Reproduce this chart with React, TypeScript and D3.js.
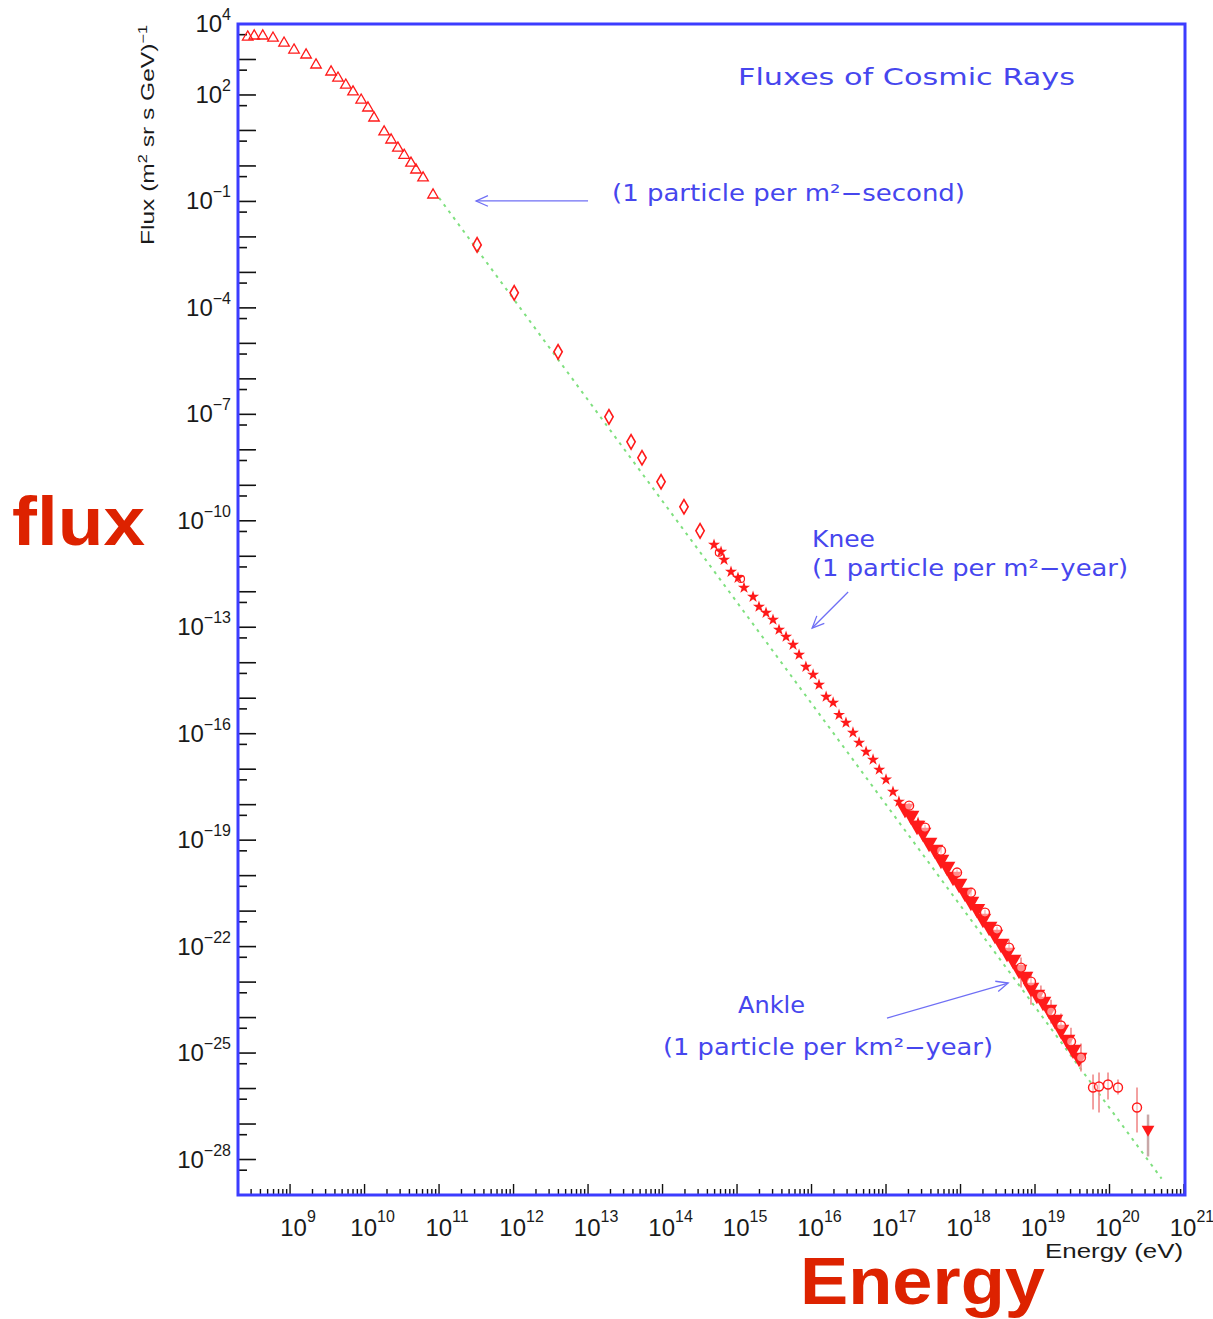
import { useEffect, useRef } from "react";
import * as d3 from "d3";

const W = 1213;
const H = 1319;

// low energy direct measurements (open triangles)
const triEnergy = [2.7e8, 3.3e8, 4.3e8, 5.9e8, 8.3e8, 1.13e9, 1.64e9, 2.23e9, 3.55e9, 4.4e9, 5.6e9, 7.0e9, 9.0e9, 1.11e10, 1.34e10, 1.83e10, 2.27e10, 2.8e10, 3.4e10, 4.2e10, 4.9e10, 6.1e10, 8.3e10];
const triFlux = [4300, 4600, 4600, 4000, 2900, 1850, 1340, 700, 445, 300, 190, 122, 72, 43, 22.5, 9.1, 5.4, 3.2, 2.0, 1.2, 0.77, 0.46, 0.152];

// balloon / satellite data (open diamonds)
const diaEnergy = [3.24e11, 1.02e12, 3.96e12, 1.91e13, 3.78e13, 5.3e13, 9.55e13, 1.94e14, 3.19e14];
const diaFlux = [5.96e-3, 2.65e-4, 5.77e-6, 8.5e-8, 1.68e-8, 5.96e-9, 1.26e-9, 2.48e-10, 5.2e-11];

// air shower data around the knee (small filled markers)
const kneeEnergy = [4.91e14, 6.1e14, 6.7e14, 8.3e14, 1.03e15, 1.24e15, 1.64e15, 1.97e15, 2.45e15, 3.04e15, 3.66e15, 4.55e15, 5.65e15, 6.8e15, 8.4e15, 1.05e16, 1.26e16, 1.57e16, 1.95e16, 2.34e16, 2.9e16, 3.6e16, 4.35e16, 5.4e16, 6.7e16, 8.1e16, 1.0e17, 1.24e17, 1.49e17, 1.97e17, 2.69e17];
const kneeFlux = [2.11e-11, 1.34e-11, 7.96e-12, 3.66e-12, 2.48e-12, 1.3e-12, 7.2e-13, 3.78e-13, 2.56e-13, 1.63e-13, 8.5e-14, 5.4e-14, 3.2e-14, 1.68e-14, 7.7e-15, 4.6e-15, 2.4e-15, 1.1e-15, 7.5e-16, 3.4e-16, 2.04e-16, 1.07e-16, 5.6e-17, 3.1e-17, 1.85e-17, 9.7e-18, 5.1e-18, 2.3e-18, 1.22e-18, 5.96e-19, 3.1e-19];
const kneeOpenEnergy = [5.7e14, 1.13e15];
const kneeOpenFlux = [1.26e-11, 2.3e-12];

// dense band above 1e17 eV (filled down triangles)
const bandEnergy = [1.8e17, 2.17e17, 2.61e17, 3.14e17, 3.78e17, 4.55e17, 5.47e17, 6.59e17, 7.93e17, 9.55e17, 1.15e18, 1.38e18, 1.66e18, 2.0e18, 2.42e18, 2.9e18, 3.5e18, 4.21e18, 5.07e18, 6.1e18, 7.35e18, 8.83e18, 1.06e19, 1.28e19, 1.54e19, 1.85e19, 2.23e19, 2.69e19, 3.24e19, 3.9e19];
const bandFlux = [7.71e-19, 4.9e-19, 2.56e-19, 1.63e-19, 8.51e-20, 5.4e-20, 2.82e-20, 1.79e-20, 9.37e-21, 5.96e-21, 3.32e-21, 1.85e-21, 1.17e-21, 6.15e-22, 3.66e-22, 2.18e-22, 1.22e-22, 6.78e-23, 4.31e-23, 2.25e-23, 1.43e-23, 7.0e-24, 4.45e-24, 2.82e-24, 1.68e-24, 8.79e-25, 4.59e-25, 2.4e-25, 1.26e-25, 7.46e-26];

// open markers with error bars
const openEnergy = [2.04e17, 3.34e17, 5.47e17, 8.98e17, 1.38e18, 2.13e18, 3.09e18, 4.48e18, 6.49e18, 8.83e18, 1.2e19, 1.64e19, 2.23e19, 3.04e19, 4.14e19, 6.01e19, 7.23e19, 9.55e19, 1.3e20, 2.34e20];
const openFlux = [9.37e-19, 2.25e-19, 5.06e-20, 1.22e-20, 3.32e-21, 9.08e-22, 3.01e-22, 9.37e-23, 2.56e-23, 1.03e-23, 4.17e-24, 1.48e-24, 5.96e-25, 2.11e-25, 7.46e-26, 1.07e-26, 1.14e-26, 1.3e-26, 1.07e-26, 2.92e-27];
const openLo = [7.7e-19, 1.86e-19, 4.2e-20, 1.0e-20, 2.7e-21, 7.5e-22, 2.5e-22, 5.6e-23, 7.0e-24, 2.3e-24, 2.18e-24, 6.8e-25, 2.7e-25, 8.5e-26, 3.0e-26, 2.56e-27, 2.11e-27, 4.9e-27, 6.78e-27, 5.77e-28];
const openHi = [1.13e-18, 2.72e-19, 6.1e-20, 1.48e-20, 4.0e-21, 1.1e-21, 3.6e-22, 1.57e-22, 4.9e-23, 1.96e-23, 7.96e-24, 3.2e-24, 1.3e-24, 5.2e-25, 1.85e-25, 2.48e-26, 2.82e-26, 2.82e-26, 1.79e-26, 1.07e-26];

// highest energy point (filled down triangle)
const topEnergy = [3.29e20];
const topFlux = [7.0e-28];
const topLo = [1.22e-28];
const topHi = [1.85e-27];

// E^-2.85 reference line
const lineEnergy = [1e11, 5e20];
const lineFlux = [0.126, 2.9e-29];

// tick labels
const xLabelExp = [9, 10, 11, 12, 13, 14, 15, 16, 17, 18, 19, 20, 21];
const yLabelExp = [4, 2, -1, -4, -7, -10, -13, -16, -19, -22, -25, -28];

// arrows [tailE, tailF, tipE, tipF]
const arrows = [
  [1e13, 0.103, 3.14e11, 0.103],
  [3.1e16, 9.8e-13, 1.02e16, 9.5e-14],
  [1.03e17, 9.7e-25, 4.36e18, 9.4e-24],
];

const RED = "#ff1a1a";
const BLUE = "#3c3cff";
const TXT = "#4646ee";

export default function App() {
  const svgRef = useRef<SVGSVGElement>(null);

  useEffect(() => {
    const svg = d3.select(svgRef.current);
    svg.selectAll("*").remove();

    const left = 238, right = 1184, top = 24, bottom = 1195;
    const x = d3.scaleLog().domain([2e8, 1e21]).range([left, right]);
    const y = d3.scaleLog().domain([1e-29, 1e4]).range([bottom, top]);

    svg.append("rect").attr("width", W).attr("height", H).attr("fill", "white");

    // y ticks
    const yt = svg.append("g").attr("stroke", "#111").attr("stroke-width", 1.6);
    for (let k = -29; k <= 4; k++) {
      const v = Math.pow(10, k);
      yt.append("line").attr("x1", left).attr("x2", left + 18).attr("y1", y(v)).attr("y2", y(v));
      const h = 5 * Math.pow(10, k - 1);
      if (h > 1e-29) {
        yt.append("line").attr("x1", left).attr("x2", left + 9).attr("y1", y(h)).attr("y2", y(h));
      }
    }

    // x ticks
    const xt = svg.append("g").attr("stroke", "#111").attr("stroke-width", 1.4);
    for (let k = 8; k <= 20; k++) {
      for (let m = 2; m <= 10; m++) {
        const v = m * Math.pow(10, k);
        if (v < 2e8 || v > 1e21) continue;
        const len = m === 10 ? 11 : 6;
        xt.append("line").attr("x1", x(v)).attr("x2", x(v)).attr("y1", bottom).attr("y2", bottom - len);
      }
    }

    // frame
    svg.append("rect")
      .attr("x", left).attr("y", top)
      .attr("width", right - left + 1).attr("height", bottom - top)
      .attr("fill", "none").attr("stroke", BLUE).attr("stroke-width", 3);

    // tick labels
    const font = "'Liberation Sans', Arial, sans-serif";
    xLabelExp.forEach(k => {
      const t = svg.append("text")
        .attr("x", x(Math.pow(10, k)) + 8).attr("y", 1236)
        .attr("text-anchor", "middle").attr("font-family", font)
        .attr("font-size", 24).attr("fill", "#1a1a1a");
      t.append("tspan").text("10");
      t.append("tspan").attr("dy", -14).attr("font-size", 16).text(String(k));
    });
    yLabelExp.forEach(k => {
      const t = svg.append("text")
        .attr("x", 231).attr("y", y(Math.pow(10, k)) + 8)
        .attr("text-anchor", "end").attr("font-family", font)
        .attr("font-size", 24).attr("fill", "#1a1a1a");
      t.append("tspan").text("10");
      t.append("tspan").attr("dy", -12).attr("font-size", 16)
        .text(k < 0 ? "\u2212" + Math.abs(k) : String(k));
    });

    // axis titles
    const yTitle = svg.append("text")
      .attr("transform", "translate(154,25) rotate(-90)")
      .attr("text-anchor", "end").attr("font-family", font)
      .attr("font-size", 18).attr("fill", "#1a1a1a")
      .attr("textLength", 220).attr("lengthAdjust", "spacingAndGlyphs");
    yTitle.append("tspan").text("Flux (m");
    yTitle.append("tspan").attr("dy", -7).attr("font-size", 12).text("2");
    yTitle.append("tspan").attr("dy", 7).text(" sr s GeV)");
    yTitle.append("tspan").attr("dy", -7).attr("font-size", 12).text("\u22121");

    svg.append("text")
      .attr("x", 1183).attr("y", 1258).attr("text-anchor", "end")
      .attr("font-family", font).attr("font-size", 20).attr("fill", "#1a1a1a")
      .attr("textLength", 138).attr("lengthAdjust", "spacingAndGlyphs")
      .text("Energy (eV)");

    // reference power law
    const line = d3.line<number>().x(i => x(lineEnergy[i])).y(i => y(lineFlux[i]));
    svg.append("path")
      .attr("d", line(d3.range(lineEnergy.length)))
      .attr("fill", "none").attr("stroke", "#7fe07f")
      .attr("stroke-width", 2).attr("stroke-dasharray", "3,5");

    const marks = svg.append("g");

    // error bars
    const errs = marks.append("g").attr("stroke", "#f08a8a").attr("stroke-width", 1.6);
    openEnergy.forEach((e, i) => {
      errs.append("line").attr("x1", x(e)).attr("x2", x(e)).attr("y1", y(openLo[i])).attr("y2", y(openHi[i]));
    });
    topEnergy.forEach((e, i) => {
      errs.append("line").attr("x1", x(e)).attr("x2", x(e)).attr("y1", y(topLo[i])).attr("y2", y(topHi[i]))
        .attr("stroke", "#c8a8a8").attr("stroke-width", 2.5);
    });

    const sym = (type: d3.SymbolType, size: number) => d3.symbol().type(type).size(size)() as string;

    // triangles
    marks.append("g").selectAll("path").data(triEnergy).join("path")
      .attr("transform", (e, i) => `translate(${x(e)},${y(triFlux[i])})`)
      .attr("d", sym(d3.symbolTriangle, 48))
      .attr("fill", "none").attr("stroke", RED).attr("stroke-width", 1.3);

    // diamonds
    marks.append("g").selectAll("path").data(diaEnergy).join("path")
      .attr("transform", (e, i) => `translate(${x(e)},${y(diaFlux[i])})`)
      .attr("d", sym(d3.symbolDiamond, 60))
      .attr("fill", "none").attr("stroke", RED).attr("stroke-width", 1.6);

    // knee markers
    marks.append("g").selectAll("path").data(kneeEnergy).join("path")
      .attr("transform", (e, i) => `translate(${x(e)},${y(kneeFlux[i])})`)
      .attr("d", sym(d3.symbolStar, 45))
      .attr("fill", RED);
    marks.append("g").selectAll("circle").data(kneeOpenEnergy).join("circle")
      .attr("cx", e => x(e)).attr("cy", (e, i) => y(kneeOpenFlux[i])).attr("r", 3.5)
      .attr("fill", "none").attr("stroke", RED).attr("stroke-width", 1.2);

    // band
    marks.append("g").selectAll("path").data(bandEnergy).join("path")
      .attr("transform", (e, i) => `translate(${x(e)},${y(bandFlux[i])}) rotate(180)`)
      .attr("d", sym(d3.symbolTriangle, 120))
      .attr("fill", RED);

    // open markers
    marks.append("g").selectAll("circle").data(openEnergy).join("circle")
      .attr("cx", e => x(e)).attr("cy", (e, i) => y(openFlux[i])).attr("r", 4.5)
      .attr("fill", "white").attr("fill-opacity", 0.5).attr("stroke", RED).attr("stroke-width", 1.4);

    marks.append("g").selectAll("path").data(topEnergy).join("path")
      .attr("transform", (e, i) => `translate(${x(e)},${y(topFlux[i])}) rotate(180)`)
      .attr("d", sym(d3.symbolTriangle, 70))
      .attr("fill", RED);

    // arrows
    const ag = svg.append("g").attr("stroke", "#6f6ff5").attr("stroke-width", 1.3).attr("fill", "none");
    arrows.forEach(([e0, f0, e1, f1]) => {
      const x0 = x(e0), y0 = y(f0), x1 = x(e1), y1 = y(f1);
      const a = Math.atan2(y0 - y1, x0 - x1);
      const L = 13, s = 0.42;
      ag.append("line").attr("x1", x0).attr("y1", y0).attr("x2", x1).attr("y2", y1);
      ag.append("path").attr("d",
        `M${x1 + L * Math.cos(a + s)},${y1 + L * Math.sin(a + s)}L${x1},${y1}L${x1 + L * Math.cos(a - s)},${y1 + L * Math.sin(a - s)}`);
    });

    // annotations
    const note = (tx: number, ty: number, str: string, len: number) =>
      svg.append("text").attr("x", tx).attr("y", ty)
        .attr("font-family", "'DejaVu Sans', sans-serif").attr("font-size", 23)
        .attr("fill", TXT).attr("textLength", len).attr("lengthAdjust", "spacingAndGlyphs")
        .text(str);
    note(738, 85, "Fluxes of Cosmic Rays", 337);
    note(612, 201, "(1 particle per m\u00b2\u2212second)", 353);
    note(812, 547, "Knee", 63);
    note(812, 576, "(1 particle per m\u00b2\u2212year)", 316);
    note(738, 1013, "Ankle", 67);
    note(663, 1055, "(1 particle per km\u00b2\u2212year)", 330);

    // big red labels
    svg.append("text").attr("x", 12).attr("y", 545)
      .attr("font-family", font).attr("font-weight", "bold").attr("font-size", 68)
      .attr("fill", "#dd2200").attr("textLength", 133).attr("lengthAdjust", "spacingAndGlyphs")
      .text("flux");
    svg.append("text").attr("x", 800).attr("y", 1304)
      .attr("font-family", font).attr("font-weight", "bold").attr("font-size", 66)
      .attr("fill", "#dd2200").attr("textLength", 245).attr("lengthAdjust", "spacingAndGlyphs")
      .text("Energy");
  }, []);

  return (
    <svg ref={svgRef} width={W} height={H} style={{ position: "absolute", left: 0, top: 0 }} />
  );
}
